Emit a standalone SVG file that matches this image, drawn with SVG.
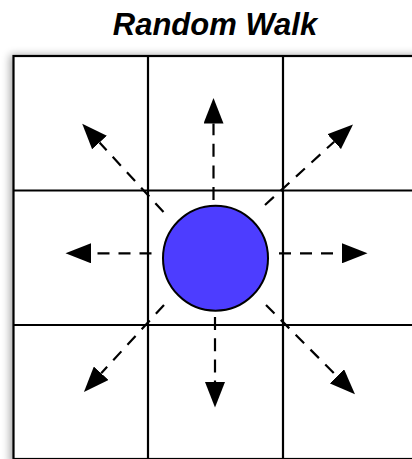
<svg xmlns="http://www.w3.org/2000/svg" width="412" height="459" viewBox="0 0 412 459">
  <style>
    .grid { stroke: #000; stroke-width: 2.2; fill: none; }
    .conn { stroke: #000; stroke-width: 2.2; fill: none; stroke-dasharray: 12 9; marker-end: url(#head); }
    .title { font-family: "Liberation Sans", Arial, sans-serif; font-size: 31px; font-weight: bold; font-style: italic; fill: #000; }
  </style>
  <defs>
    <marker id="head" markerUnits="userSpaceOnUse" markerWidth="26" markerHeight="20" refX="0" refY="10" orient="auto" viewBox="0 0 26 20">
      <path d="M0,0 L25.5,10 L0,20 z" fill="#000"/>
    </marker>
    <filter id="shadow" x="-10%" y="-10%" width="120%" height="120%">
      <feGaussianBlur stdDeviation="4"/>
    </filter>
  </defs>
  <rect width="412" height="459" fill="#fff"/>
  <text class="title" x="215" y="34.5" text-anchor="middle">Random Walk</text>

  <g id="grid">
    <rect x="10" y="55" width="410" height="410" fill="#000" opacity="0.35" filter="url(#shadow)"/>
    <rect x="13.5" y="56" width="405" height="404" fill="#fff"/>
    <rect class="grid" x="13.5" y="56" width="405" height="403"/>
    <line class="grid" x1="148" y1="56" x2="148" y2="459"/>
    <line class="grid" x1="283" y1="56" x2="283" y2="459"/>
    <line class="grid" x1="13.5" y1="190.5" x2="418" y2="190.5"/>
    <line class="grid" x1="13.5" y1="325" x2="418" y2="325"/>
  </g>

  <g id="connectors">
    <line class="conn" x1="213.5" y1="200" x2="213.5" y2="123.5" style="stroke-dasharray:13 8.6"/>
    <line class="conn" x1="215" y1="317" x2="215" y2="382" style="stroke-dasharray:13 8.2"/>
    <line class="conn" x1="151.5" y1="253.3" x2="91" y2="253.3"/>
    <line class="conn" x1="279" y1="253.3" x2="342" y2="253.3"/>
    <line class="conn" x1="163.5" y1="212" x2="99.5" y2="142.5"/>
    <line class="conn" x1="265" y1="205" x2="334.2" y2="141.7"/>
    <line class="conn" x1="164" y1="305" x2="101.2" y2="373.3"/>
    <line class="conn" x1="266" y1="305" x2="337" y2="376.3"/>
  </g>

  <g id="walker">
    <circle cx="215.5" cy="258.2" r="52.5" fill="#4d3dff" stroke="#000" stroke-width="2"/>
  </g>
</svg>
